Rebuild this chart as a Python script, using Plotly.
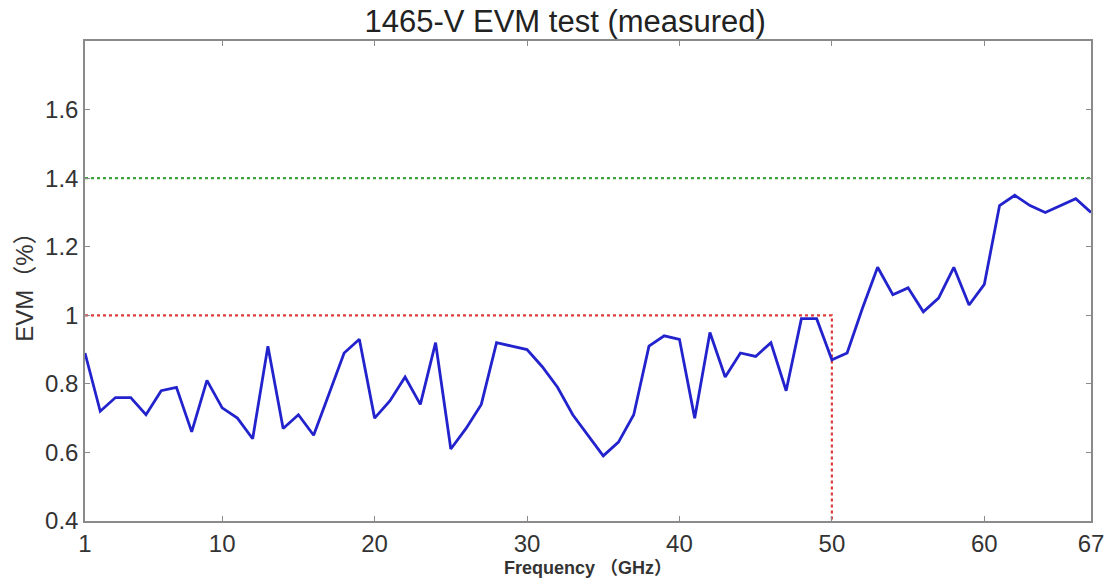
import plotly.graph_objects as go

freq = list(range(1, 68))
evm = [0.89, 0.72, 0.76, 0.76, 0.71, 0.78, 0.79, 0.66, 0.81, 0.73,
       0.70, 0.64, 0.91, 0.67, 0.71, 0.65, 0.77, 0.89, 0.93, 0.70,
       0.75, 0.82, 0.74, 0.92, 0.61, 0.67, 0.74, 0.92, 0.91, 0.90,
       0.85, 0.79, 0.71, 0.65, 0.59, 0.63, 0.71, 0.91, 0.94, 0.93,
       0.70, 0.95, 0.82, 0.89, 0.88, 0.92, 0.78, 0.99, 0.99, 0.87,
       0.89, 1.02, 1.14, 1.06, 1.08, 1.01, 1.05, 1.14, 1.03, 1.09,
       1.32, 1.35, 1.32, 1.30, 1.32, 1.34, 1.30]

limit_x = [1, 67]
limit_y = [1.4, 1.4]
marker_x = [1, 50, 50]
marker_y = [1.0, 1.0, 0.4]

x_ticks = [1, 10, 20, 30, 40, 50, 60, 67]
y_ticks = [0.4, 0.6, 0.8, 1.0, 1.2, 1.4, 1.6]
y_tick_text = ["0.4", "0.6", "0.8", "1", "1.2", "1.4", "1.6"]

fig = go.Figure()
fig.add_trace(go.Scatter(x=limit_x, y=limit_y, mode="lines",
                         line=dict(color="rgb(60,165,60)", width=2.2, dash="dot"),
                         hoverinfo="skip"))
fig.add_trace(go.Scatter(x=marker_x, y=marker_y, mode="lines",
                         line=dict(color="rgb(220,60,60)", width=2.2, dash="dot"),
                         hoverinfo="skip"))
fig.add_trace(go.Scatter(x=freq, y=evm, mode="lines",
                         line=dict(color="rgb(35,35,205)", width=2.8)))

axis_common = dict(showgrid=False, zeroline=False, showline=True,
                   linecolor="#8a8a8a", linewidth=1.5, mirror="ticks",
                   ticks="inside", ticklen=5, tickcolor="#8a8a8a",
                   automargin=False,
                   tickfont=dict(family="Liberation Sans, Arial, sans-serif", size=24, color="#333333"))

fig.update_layout(
    width=1106, height=578,
    margin=dict(l=85, r=15, t=41, b=57),
    paper_bgcolor="white", plot_bgcolor="white",
    showlegend=False,
    title=dict(text="1465-V EVM test (measured)", x=0.511, xref="container",
               xanchor="center", y=0.963, yref="container", yanchor="middle",
               font=dict(family="Liberation Sans, Arial, sans-serif", size=31, color="#222222")),
    xaxis=dict(range=[1, 67], tickvals=x_ticks,
               title=dict(text="<b>Frequency （GHz）</b>", standoff=7,
                          font=dict(family="Liberation Sans, Noto Sans CJK SC, sans-serif", size=18, color="#333333")),
               **axis_common),
    yaxis=dict(range=[0.4, 1.8], tickvals=y_ticks, ticktext=y_tick_text,
               title=dict(text="EVM（%）", standoff=5,
                          font=dict(family="Liberation Sans, Noto Sans CJK SC, sans-serif", size=24, color="#333333")),
               **axis_common),
)

fig.write_html("out.html")
